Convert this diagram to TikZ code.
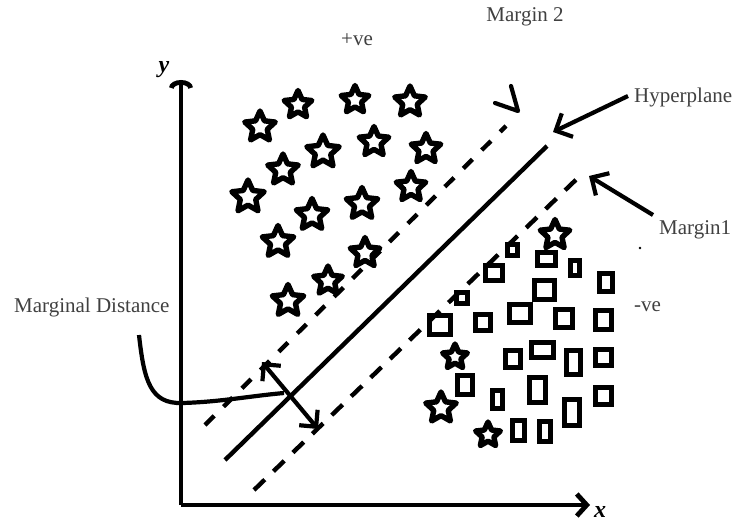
\documentclass[tikz,border=0pt]{standalone}
\usepackage{fontspec}
\setmainfont{Liberation Serif}
\usetikzlibrary{shapes.geometric,arrows.meta}
\begin{document}
\begin{tikzpicture}[x=1pt,y=-1pt,
  st/.style={star, star points=5, star point ratio=2.1, draw, line width=5.4pt, line join=round, minimum size=#1, inner sep=0pt},
  st/.default=32pt,
  sq/.style args={#1x#2}{rectangle, draw, line width=5pt, minimum width=#1, minimum height=#2, inner sep=0pt},
  thick line/.style={line width=4.4pt},
  lbl/.style={font=\fontsize{21}{24}\selectfont, text=black!75, inner sep=0pt},
  barb/.style={-{Straight Barb[length=13pt,width=26pt]}, line width=4.2pt}
]
\useasboundingbox (0,0) rectangle (738,525);
% axes
\coordinate (O) at (181,505);
\coordinate (Ytop) at (181,80);
\coordinate (Xend) at (590,505);
\draw[line width=4.8pt, -{Arc Barb[length=8pt,width=24pt]}] (O) -- (Ytop);
\draw[line width=4.8pt, -{Straight Barb[length=10pt,width=22pt]}] (O) -- (Xend);
\node[font=\fontsize{24}{26}\selectfont\bfseries\itshape, inner sep=0pt] (ylab) at (164,70) {y};
\node[font=\fontsize{24}{26}\selectfont\bfseries\itshape, inner sep=0pt] (xlab) at (600,512) {x};
% lines
\coordinate (h1) at (225,460); \coordinate (h2) at (547,146);
\coordinate (m2a) at (205,425); \coordinate (m2b) at (506,126);
\coordinate (m1a) at (254,490); \coordinate (m1b) at (584,172);
\draw[thick line] (h1) -- (h2);
\draw[thick line, dash pattern=on 13pt off 13pt] (m2a) -- (m2b);
\draw[thick line, dash pattern=on 15pt off 12pt] (m1a) -- (m1b);
% margin 2 arrowhead
\coordinate (m2tip) at (518,111);
\coordinate (m2l) at (495,103); \coordinate (m2u) at (511,86);
\draw[line width=4.2pt, line cap=round, line join=round] (m2l) -- (m2tip) -- (m2u);
% labels
\node[lbl] (plus) at (357,40) {+ve};
\node[lbl] (mar2) at (525,17) {Margin 2};
\node[lbl, anchor=west] (hyp) at (634,97) {Hyperplane};
\node[lbl, anchor=west] (mar1) at (659,230) {Margin1};
\node[lbl, anchor=west] (neg) at (634,307) {-ve};
\node[lbl, anchor=west] (md) at (14,307) {Marginal Distance};
\fill (640,248) circle (1.3pt);
% pointer arrows
\coordinate (hypS) at (628,96); \coordinate (hypE) at (553,132);
\draw[barb] (hypS) -- (hypE);
\coordinate (m1S) at (653,215); \coordinate (m1E) at (589,176);
\draw[barb] (m1S) -- (m1E);
% marginal distance
\coordinate (dA) at (262,362); \coordinate (dB) at (318,429);
\draw[{Straight Barb[length=12pt,width=24pt]}-{Straight Barb[length=12pt,width=24pt]}, line width=4.2pt] (dA) -- (dB);
\coordinate (cS) at (139,335); \coordinate (cE) at (284,393);
\draw[line width=4.2pt] (cS) .. controls (144,380) and (150,404) .. (182,403) .. controls (220,402) and (250,396) .. (cE);
% positive stars
\node[st=32pt] (s1) at (260,127) {};
\node[st=29pt] (s2) at (298,105) {};
\node[st=29pt] (s3) at (355,100) {};
\node[st=32pt] (s4) at (410,102) {};
\node[st=34pt] (s5) at (323,152) {};
\node[st=31pt] (s6) at (374,142) {};
\node[st=31pt] (s7) at (426,149) {};
\node[st=32pt] (s8) at (283,170) {};
\node[st=34pt] (s9) at (248,197) {};
\node[st=33pt] (s10) at (312,215) {};
\node[st=33pt] (s11) at (362,204) {};
\node[st=31pt] (s12) at (411,187) {};
\node[st=33pt] (s13) at (278,242) {};
\node[st=31pt] (s14) at (365,253) {};
\node[st=30pt] (s15) at (328,281) {};
\node[st=33pt] (s16) at (288,301) {};
% stars among negatives
\node[st=31pt] (s17) at (555,235) {};
\node[st=26pt] (s18) at (455,357) {};
\node[st=32pt] (s19) at (441,408) {};
\node[st=26pt] (s20) at (488,435) {};
% squares (outer size minus stroke)
\node[sq=10ptx11pt] (q1) at (512,250) {};
\node[sq=18ptx13pt] (q2) at (546,259) {};
\node[sq=9ptx15pt] (q3) at (575,268) {};
\node[sq=17ptx15pt] (q4) at (494,273) {};
\node[sq=13ptx18pt] (q5) at (606,282) {};
\node[sq=11ptx11pt] (q6) at (462,298) {};
\node[sq=20ptx19pt] (q7) at (544,290) {};
\node[sq=21ptx18pt] (q8) at (520,313) {};
\node[sq=17ptx18pt] (q9) at (564,318) {};
\node[sq=16ptx19pt] (q10) at (603,320) {};
\node[sq=15ptx16pt] (q11) at (483,322) {};
\node[sq=21ptx19pt] (q12) at (440,325) {};
\node[sq=22ptx15pt] (q13) at (542,350) {};
\node[sq=15ptx17pt] (q14) at (513,359) {};
\node[sq=14ptx24pt] (q15) at (573,362) {};
\node[sq=16ptx16pt] (q16) at (603,357) {};
\node[sq=15ptx19pt] (q17) at (465,385) {};
\node[sq=16ptx25pt] (q18) at (537,390) {};
\node[sq=16ptx17pt] (q19) at (603,396) {};
\node[sq=10ptx18pt] (q20) at (497,399) {};
\node[sq=15ptx26pt] (q21) at (572,412) {};
\node[sq=12ptx20pt] (q22) at (518,430) {};
\node[sq=11ptx20pt] (q23) at (545,431) {};
\end{tikzpicture}
\end{document}
